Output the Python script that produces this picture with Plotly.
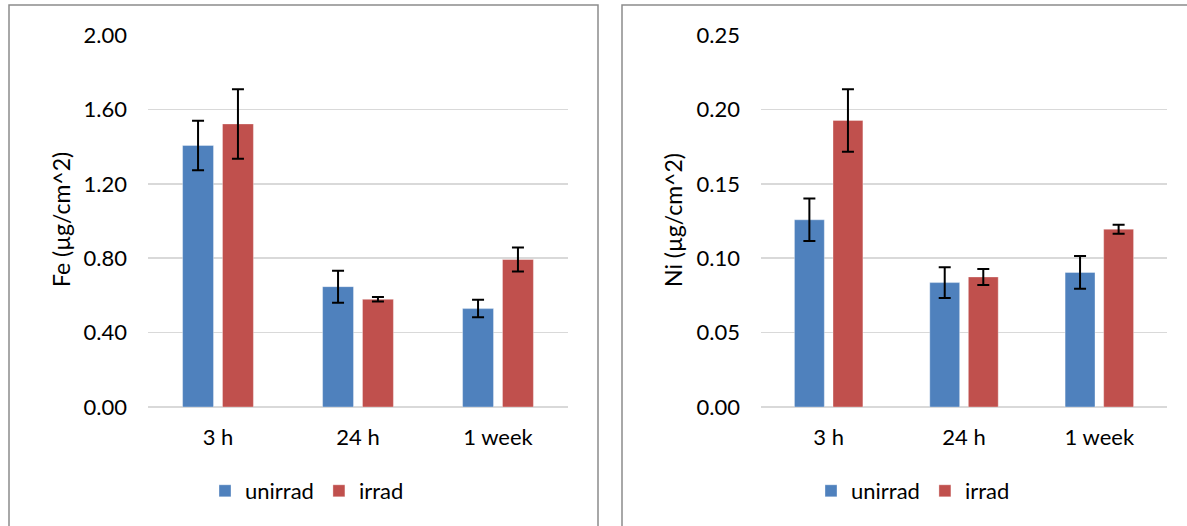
import plotly.graph_objects as go

categories = ["3 h", "24 h", "1 week"]
series_names = ["unirrad", "irrad"]

fe_unirrad = [1.406, 0.647, 0.529]
fe_unirrad_err = [0.133, 0.086, 0.047]
fe_irrad = [1.522, 0.579, 0.793]
fe_irrad_err = [0.187, 0.012, 0.064]

ni_unirrad = [0.1258, 0.0836, 0.0904]
ni_unirrad_err = [0.0143, 0.0104, 0.011]
ni_irrad = [0.1926, 0.0874, 0.1195]
ni_irrad_err = [0.021, 0.0054, 0.003]

fe_ticks = [0.0, 0.4, 0.8, 1.2, 1.6, 2.0]
ni_ticks = [0.0, 0.05, 0.10, 0.15, 0.20, 0.25]

BLUE = "#4F81BD"
RED = "#C0504D"
FONT = "Lato"
FS = 22
W, H = 1187, 526

fig = go.Figure()

def add_bar(x, y, err, name, color, xa, ya, legend):
    fig.add_trace(go.Bar(
        x=x, y=y, name=name,
        marker=dict(color=color, line=dict(width=1, color="rgba(255,255,255,0.35)")),
        error_y=dict(type="data", array=err, visible=True, color="black",
                     thickness=2, width=6),
        xaxis=xa, yaxis=ya, legend=legend,
    ))

add_bar(categories, fe_unirrad, fe_unirrad_err, series_names[0], BLUE, "x", "y", "legend")
add_bar(categories, fe_irrad, fe_irrad_err, series_names[1], RED, "x", "y", "legend")
add_bar(categories, ni_unirrad, ni_unirrad_err, series_names[0], BLUE, "x2", "y2", "legend2")
add_bar(categories, ni_irrad, ni_irrad_err, series_names[1], RED, "x2", "y2", "legend2")

ytop = 1 - 35 / H
ybot = 1 - 407 / H
grid = "#D9D9D9"
tickfont = dict(family=FONT, size=FS, color="#000000")

xcommon = dict(showgrid=False, zeroline=False, showline=False, ticks="",
               tickfont=tickfont, ticklabelstandoff=15, automargin=False)
ycommon = dict(showgrid=True, gridcolor=grid, gridwidth=1.5, zeroline=True,
               zerolinecolor=grid, zerolinewidth=1.5, showline=False, ticks="",
               tickfont=tickfont, ticklabelstandoff=20, automargin=False)

fig.update_layout(
    width=W, height=H,
    margin=dict(l=0, r=0, t=0, b=0, pad=0, autoexpand=False),
    paper_bgcolor="white", plot_bgcolor="white",
    barmode="group", bargap=0.43, bargroupgap=0.225,
    font=dict(family=FONT, size=FS, color="black"),
    xaxis=dict(domain=[148 / W, 568 / W], anchor="y", **xcommon),
    yaxis=dict(domain=[ybot, ytop], anchor="x", range=[0, 2.0],
               tickvals=fe_ticks, tickformat=".2f", **ycommon),
    xaxis2=dict(domain=[761 / W, 1167 / W], anchor="y2", **xcommon),
    yaxis2=dict(domain=[ybot, ytop], anchor="x2", range=[0, 0.25],
                tickvals=ni_ticks, tickformat=".2f", **ycommon),
    legend=dict(orientation="h", x=307 / W, y=1 - 491 / H, xanchor="center",
                yanchor="middle", font=dict(family=FONT, size=FS),
                bgcolor="rgba(0,0,0,0)", itemclick=False, itemwidth=30),
    legend2=dict(orientation="h", x=913 / W, y=1 - 491 / H, xanchor="center",
                 yanchor="middle", font=dict(family=FONT, size=FS),
                 bgcolor="rgba(0,0,0,0)", itemclick=False, itemwidth=30),
    showlegend=True,
)

fig.add_annotation(text="Fe (µg/cm^2)", x=61 / W, y=1 - 220 / H, xref="paper",
                   yref="paper", textangle=-90, showarrow=False,
                   font=dict(family=FONT, size=23), xanchor="center", yanchor="middle")
fig.add_annotation(text="Ni (µg/cm^2)", x=673 / W, y=1 - 220 / H, xref="paper",
                   yref="paper", textangle=-90, showarrow=False,
                   font=dict(family=FONT, size=23), xanchor="center", yanchor="middle")

frame = dict(type="rect", xref="paper", yref="paper", line=dict(color="#8C8C8C", width=1.5),
             fillcolor="rgba(0,0,0,0)", layer="below")
fig.add_shape(x0=9 / W, x1=598 / W, y0=-0.05, y1=1 - 5 / H, **frame)
fig.add_shape(x0=622 / W, x1=1.03, y0=-0.05, y1=1 - 5 / H, **frame)

fig.write_html("out.html", config={"displayModeBar": False, "staticPlot": True},
               post_script="document.body.style.margin='0';document.documentElement.style.overflow='hidden';")
